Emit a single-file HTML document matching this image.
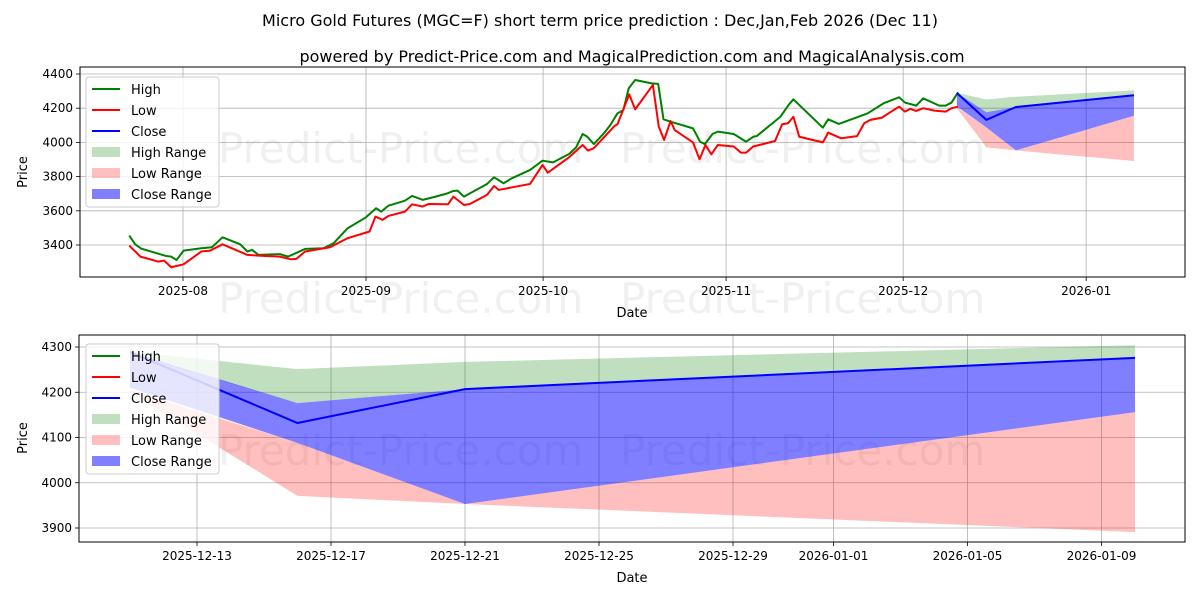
<!DOCTYPE html>
<html><head><meta charset="utf-8"><style>
body{margin:0;background:#fff;}
svg text{font-family:"DejaVu Sans","Liberation Sans",sans-serif;}
</style></head><body>
<svg id="fig" width="1200" height="600" viewBox="0 0 1200 600" xmlns="http://www.w3.org/2000/svg">
<text x="600" y="26" text-anchor="middle" font-size="16">Micro Gold Futures (MGC=F) short term price prediction : Dec,Jan,Feb 2026 (Dec 11)</text>
<text x="632" y="62" text-anchor="middle" font-size="16">powered by Predict-Price.com and MagicalPrediction.com and MagicalAnalysis.com</text>
<g id="top"></g>
<g id="bot"></g>
</svg>
<script>
// History: day offsets from 2025-08-01
const highDays=[-9.1,-8.1,-7.1,-2.9,-2.0,-1.1,0.1,3.1,4.9,6.7,9.7,10.9,11.7,12.8,16.4,17.8,20.7,23.8,25.5,27.9,31,32.7,33.6,34.8,37.6,38.8,40.6,42.8,44.8,45.8,46.5,47.6,51.5,52.7,54.3,55.7,58.8,60.9,62.7,65.4,66.6,67.7,68.5,69.6,71.3,72.4,73.6,74.6,75.5,76.6,79.4,80.5,81.4,82.6,86.4,87.6,88.4,89.7,90.6,93.3,95.4,96.6,97.2,101.2,102.6,103.4,108.4,109.3,111.1,116,118.7,121.3,122.3,124.2,125.4,128.1,129.2,130.2,131.3];
const highVals=[3455,3404,3379,3336,3332,3312,3367,3381,3387,3445,3404,3362,3371,3342,3347,3332,3377,3381,3410,3498,3562,3615,3595,3630,3659,3687,3664,3683,3702,3716,3718,3683,3757,3796,3761,3790,3839,3893,3883,3932,3971,4049,4033,3990,4053,4102,4170,4189,4316,4365,4345,4342,4135,4121,4082,4004,3990,4049,4063,4049,4004,4033,4037,4150,4219,4252,4086,4135,4108,4170,4229,4264,4233,4215,4258,4215,4215,4233,4293];
const lowDays=[-9.1,-7.2,-4.2,-3.2,-2.0,0.1,3.1,4.6,6.7,10.9,12.8,16.4,18.2,19.2,20.7,24.9,27.9,31.6,32.6,33.8,34.8,37.6,38.8,40.6,41.6,44.9,45.8,47.6,48.6,51.5,52.7,53.5,55.0,58.8,60.9,61.8,65.4,67.7,68.6,69.6,73.1,73.6,75.6,76.6,79.6,80.6,81.5,82.6,83.3,86.4,87.5,88.5,89.5,90.6,93.3,94.5,95.4,96.6,100.3,101.5,102.5,103.4,104.4,108.4,109.3,111.5,114.2,115.4,116.4,118.4,121.3,122.3,123.2,124.2,125.4,127.3,129.2,130.2,131.3];
const lowVals=[3396,3332,3303,3309,3270,3287,3362,3367,3404,3342,3338,3332,3317,3319,3362,3387,3440,3479,3566,3547,3570,3595,3638,3625,3640,3638,3683,3634,3640,3693,3745,3722,3732,3757,3868,3823,3913,3985,3952,3966,4096,4106,4281,4193,4336,4092,4014,4125,4072,4000,3901,3985,3930,3985,3976,3940,3940,3976,4008,4106,4112,4150,4033,4000,4057,4024,4037,4112,4131,4145,4209,4180,4196,4184,4200,4186,4180,4200,4209];
// Forecast: day offsets from 2025-12-11
const fcDays=[0,5,10,30];
const closeVals=[4289,4132,4207,4276];
const highHi=[4290,4251,4267,4304];
const highLo=[4285,4176,4207,4276];
const closeHi=[4289,4176,4207,4276];
const closeLo=[4210,4088,3953,4156];
const lowHi=[4205,4088,3953,4156];
const lowLo=[4200,3971,3953,3891];
const topYTicks=[3400,3600,3800,4000,4200,4400];
const topXTicks=["2025-08","2025-09","2025-10","2025-11","2025-12","2026-01"];
const topXTickDays=[0,31,61,92,122,153];
const botYTicks=[3900,4000,4100,4200,4300];
const botXTicks=["2025-12-13","2025-12-17","2025-12-21","2025-12-25","2025-12-29","2026-01-01","2026-01-05","2026-01-09"];
const botXTickDays=[2,6,10,14,18,21,25,29];

const NS="http://www.w3.org/2000/svg";
function mk(p,tag,a){const e=document.createElementNS(NS,tag);for(const k in a)e.setAttribute(k,a[k]);p.appendChild(e);return e;}

function drawAxes(g,box,id){
  const cp=mk(g,'clipPath',{id:id});
  mk(cp,'rect',{x:box.l,y:box.t,width:box.r-box.l,height:box.b-box.t});
  return mk(g,'g',{'clip-path':'url(#'+id+')'});
}
function grid(g,box,xs,ys,xTicks,xTickDays,yTicks){
  xTickDays.forEach((d,i)=>{const x=xs(d);
    const l=mk(g,'line',{x1:x,x2:x,y1:box.t,y2:box.b,stroke:'#b0b0b0','stroke-width':0.8});
    
    
    mk(g,'line',{x1:x,x2:x,y1:box.b,y2:box.b+4,stroke:'#000','stroke-width':0.8});
    const t=mk(g,'text',{x:x,y:box.b+18,'text-anchor':'middle','font-size':12});t.textContent=xTicks[i];
    
    
  });
  yTicks.forEach(v=>{const y=ys(v);
    const l=mk(g,'line',{x1:box.l,x2:box.r,y1:y,y2:y,stroke:'#b0b0b0','stroke-width':0.8});
    
    
    mk(g,'line',{x1:box.l-4,x2:box.l,y1:y,y2:y,stroke:'#000','stroke-width':0.8});
    const t=mk(g,'text',{x:box.l-7,y:y+4,'text-anchor':'end','font-size':12});t.textContent=v;
    
    
  });
}
function band(g,xs,ys,days,hi,lo,color,op,name){
  let d='';days.forEach((x,i)=>{d+=(i?'L':'M')+xs(x)+','+ys(hi[i]);});
  for(let i=days.length-1;i>=0;i--)d+='L'+xs(days[i])+','+ys(lo[i]);
  const p=mk(g,'path',{d:d+'Z',fill:color,'fill-opacity':op,stroke:'none'});
  
  
}
function line(g,xs,ys,days,vals,color,name){
  const p=mk(g,'polyline',{points:days.map((x,i)=>xs(x)+','+ys(vals[i])).join(' '),fill:'none',stroke:color,'stroke-width':2,'stroke-linejoin':'round'});
  
  
}
function legend(g,x,y){
  const bx=mk(g,'rect',{x:x,y:y,width:133,height:130,rx:3,fill:'#fff','fill-opacity':0.8,stroke:'#ccc'});
  
  
  const items=[['High','#008000',0],['Low','#ff0000',0],['Close','#0000ff',0],['High Range','#008000',0.25],['Low Range','#ff0000',0.25],['Close Range','#0000ff',0.5]];
  items.forEach((it,i)=>{const yy=y+12+i*21;
    if(it[2]===0)mk(g,'line',{x1:x+6,x2:x+34,y1:yy,y2:yy,stroke:it[1],'stroke-width':2});
    else mk(g,'rect',{x:x+6,y:yy-5,width:28,height:10,fill:it[1],'fill-opacity':it[2]});
    const t=mk(g,'text',{x:x+45,y:yy+5,'font-size':13});t.textContent=it[0];
    
    
  });
}
function frame(g,box){mk(g,'rect',{x:box.l,y:box.t,width:box.r-box.l,height:box.b-box.t,fill:'none',stroke:'#000','stroke-width':1});}
function wmText(g,x,y){const t=mk(g,'text',{x:x,y:y,'font-size':42,fill:'#000','fill-opacity':0.06});t.textContent='Predict-Price.com';
  
  }

// TOP
(function(){
  const g=document.getElementById('top');
  const box={l:80,r:1185,t:67,b:277};
  const xs=d=>183+5.903*d, ys=v=>74+(4400-v)*0.171;
  grid(g,box,xs,ys,topXTicks,topXTickDays,topYTicks);
  const c=drawAxes(g,box,'clipTop');
  wmText(c,218,163);wmText(c,620,163);
  const fd=fcDays.map(d=>131.1+d);
  band(c,xs,ys,fd,highHi,highLo,'#008000',0.25,'high-range-band');
  band(c,xs,ys,fd,lowHi,lowLo,'#ff0000',0.25,'low-range-band');
  band(c,xs,ys,fd,closeHi,closeLo,'#0000ff',0.5,'close-range-band');
  line(c,xs,ys,highDays,highVals,'#008000','high-line');
  line(c,xs,ys,lowDays,lowVals,'#ff0000','low-line');
  line(c,xs,ys,fd,closeVals,'#0000ff','close-line');
  frame(g,box);
  legend(g,86,77);
  wmText(g,218,313);wmText(g,620,313);
  const xl=mk(g,'text',{x:632,y:317,'text-anchor':'middle','font-size':13});xl.textContent='Date';
  
  const yl=mk(g,'text',{x:27,y:172,'text-anchor':'middle','font-size':13,transform:'rotate(-90 27 172)'});yl.textContent='Price';
  
})();
// BOTTOM
(function(){
  const g=document.getElementById('bot');
  const box={l:79,r:1185,t:335,b:542};
  const xs=d=>197+33.5*(d-2), ys=v=>347+(4300-v)*0.4525;
  grid(g,box,xs,ys,botXTicks,botXTickDays,botYTicks);
  const c=drawAxes(g,box,'clipBot');
  wmText(c,218,465);wmText(c,620,465);
  band(c,xs,ys,fcDays,highHi,highLo,'#008000',0.25,'high-range-band');
  band(c,xs,ys,fcDays,lowHi,lowLo,'#ff0000',0.25,'low-range-band');
  band(c,xs,ys,fcDays,closeHi,closeLo,'#0000ff',0.5,'close-range-band');
  line(c,xs,ys,fcDays,closeVals,'#0000ff','close-line');
  frame(g,box);
  legend(g,86,344);
  const xl=mk(g,'text',{x:632,y:582,'text-anchor':'middle','font-size':13});xl.textContent='Date';
  
  const yl=mk(g,'text',{x:27,y:438,'text-anchor':'middle','font-size':13,transform:'rotate(-90 27 438)'});yl.textContent='Price';
  
})();
</script>
</body></html>
